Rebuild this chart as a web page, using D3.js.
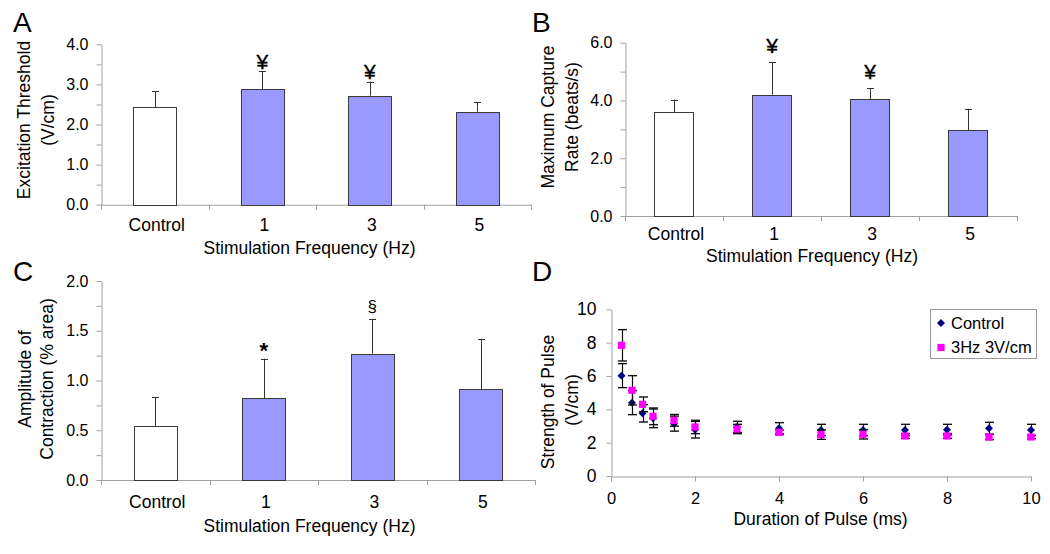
<!DOCTYPE html>
<html>
<head>
<meta charset="utf-8">
<script src="https://cdn.jsdelivr.net/npm/d3@7"></script>
<style>
  html, body { margin: 0; padding: 0; background: #fff; }
  svg { display: block; }
  text { font-family: 'Liberation Sans', Arial, sans-serif; fill: #000; }
</style>
</head>
<body>
<svg id="chart" width="1050" height="554"></svg>
<script>
// ---------- DATA ----------
const categories = ["Control", "1", "3", "5"];

const thresholdMean = [2.43, 2.88, 2.72, 2.32];
const thresholdErr  = [0.40, 0.45, 0.35, 0.23];
const thresholdMarks = ["", "¥", "¥", ""];

const captureMean = [3.60, 4.20, 4.04, 2.97];
const captureErr  = [0.43, 1.12, 0.38, 0.74];
const captureMarks = ["", "¥", "¥", ""];

const amplitudeMean = [0.54, 0.82, 1.27, 0.91];
const amplitudeErr  = [0.29, 0.40, 0.35, 0.51];
const amplitudeMarks = ["", "*", "§", ""];

const durations = [0.25, 0.5, 0.75, 1, 1.5, 2, 3, 4, 5, 6, 7, 8, 9, 10];
const controlStrength = [6.02, 4.40, 3.76, 3.46, 3.14, 2.78, 2.94, 2.86, 2.76, 2.76, 2.76, 2.78, 2.86, 2.76];
const controlErr      = [0.72, 0.72, 0.52, 0.56, 0.45, 0.50, 0.34, 0.34, 0.34, 0.34, 0.34, 0.32, 0.36, 0.34];
const stimStrength    = [7.84, 5.14, 4.30, 3.58, 3.34, 2.94, 2.82, 2.62, 2.48, 2.50, 2.40, 2.40, 2.34, 2.34];
const stimErr         = [0.94, 0.88, 0.44, 0.50, 0.35, 0.40, 0.28, 0.14, 0.28, 0.28, 0.14, 0.14, 0.16, 0.10];
const seriesNames = ["Control", "3Hz 3V/cm"];

// ---------- STYLE ----------
const AXIS = "#a0a0a0";
const BAR_FILL = "#9999ff";
const BAR_STROKE = "#3a3a3a";
const CAT_FONT = 17.5;
const TICK_FONT = 16;

const svg = d3.select("#chart");
svg.append("rect").attr("width", 1050).attr("height", 554).attr("fill", "#fff");

function styleAxis(g) {
  g.select(".domain").attr("stroke", AXIS).attr("stroke-width", 1);
  g.selectAll(".tick line").attr("stroke", AXIS).attr("stroke-width", 1);
  g.selectAll(".tick text").attr("font-family", "'Liberation Sans', Arial, sans-serif")
    .attr("fill", "#000");
}

function barPanel(c) {
  const g = svg.append("g");
  const x = d3.scaleBand().domain(categories).range([c.x0, c.x1]).paddingInner(0).paddingOuter(0);
  const y = d3.scaleLinear().domain([0, c.max]).range([c.yBot, c.yTop]);
  const bw = x.bandwidth();
  const barW = bw * 0.4;

  // y axis
  const yAxis = d3.axisLeft(y)
    .tickValues(d3.range(0, c.max + 1e-9, c.tickStep))
    .tickSize(5).tickSizeOuter(0).tickPadding(8)
    .tickFormat(v => Math.abs(v / c.labelStep - Math.round(v / c.labelStep)) < 1e-6 ? d3.format(".1f")(v) : "");
  const ya = g.append("g").attr("transform", `translate(${c.x0 + 0.5},0)`).call(yAxis);
  styleAxis(ya);
  ya.selectAll(".tick text").attr("font-size", TICK_FONT);

  // x axis line + boundary ticks
  const bounds = categories.map(d => x(d)).concat([c.x1]);
  g.append("line").attr("x1", c.x0).attr("x2", c.x1)
    .attr("y1", y(0) + 0.5).attr("y2", y(0) + 0.5).attr("stroke", AXIS);
  g.selectAll(".bt").data(bounds).enter().append("line")
    .attr("x1", d => Math.round(d) + 0.5).attr("x2", d => Math.round(d) + 0.5)
    .attr("y1", y(0)).attr("y2", y(0) + 5).attr("stroke", AXIS);

  // category labels
  g.selectAll(".cl").data(categories).enter().append("text")
    .attr("x", d => x(d) + bw / 2 + 2).attr("y", y(0) + c.catOffset)
    .attr("text-anchor", "middle").attr("font-size", CAT_FONT).text(d => d);

  // error bars (upper only)
  const errG = g.append("g");
  c.means.forEach((m, i) => {
    const cx = Math.round(x(categories[i]) + bw / 2) + 0.5;
    errG.append("line").attr("x1", cx).attr("x2", cx)
      .attr("y1", y(m)).attr("y2", y(m + c.errs[i])).attr("stroke", "#333");
    errG.append("line").attr("x1", cx - 3.5).attr("x2", cx + 3.5)
      .attr("y1", Math.round(y(m + c.errs[i])) + 0.5).attr("y2", Math.round(y(m + c.errs[i])) + 0.5)
      .attr("stroke", "#333");
  });

  // bars
  g.selectAll(".bar").data(c.means).enter().append("rect")
    .attr("x", (d, i) => Math.round(x(categories[i]) + bw / 2 - barW / 2) + 0.5)
    .attr("y", d => Math.round(y(d)) + 0.5)
    .attr("width", Math.round(barW))
    .attr("height", d => Math.round(y(0)) - Math.round(y(d)))
    .attr("fill", (d, i) => i === 0 ? "#fff" : BAR_FILL)
    .attr("stroke", BAR_STROKE).attr("stroke-width", 1);

  // significance marks
  g.selectAll(".mk").data(c.marks).enter().append("text")
    .attr("x", (d, i) => x(categories[i]) + bw / 2)
    .attr("y", (d, i) => y(c.means[i] + c.errs[i]) - c.markGap[i])
    .attr("text-anchor", "middle")
    .attr("font-size", d => d === "§" ? 17 : (d === "*" ? 22 : 21))
    .attr("font-weight", d => d === "*" ? "bold" : "normal")
    .attr("stroke", d => d === "¥" ? "#000" : "none").attr("stroke-width", 0.4)
    .text(d => d);

  // y title (two lines)
  c.yTitle.forEach((t, i) => {
    g.append("text")
      .attr("transform", `translate(${c.yTitleX[i]},${c.yTitleY}) rotate(-90)`)
      .attr("dy", "0.35em").attr("text-anchor", "middle")
      .attr("font-size", CAT_FONT).text(t);
  });

  // x title
  g.append("text").attr("x", c.xTitleX).attr("y", c.xTitleY)
    .attr("text-anchor", "middle").attr("font-size", CAT_FONT)
    .text("Stimulation Frequency (Hz)");

  // panel letter
  g.append("text").attr("x", c.letterX).attr("y", c.letterY)
    .attr("font-size", 28).text(c.letter);
}

barPanel({
  x0: 101, x1: 531, yTop: 44.3, yBot: 204.7, max: 4, tickStep: 0.5, labelStep: 1,
  means: thresholdMean, errs: thresholdErr, marks: thresholdMarks, markGap: [0, 2, 3, 0],
  catOffset: 26.5, yTitle: ["Excitation Threshold", "(V/cm)"], yTitleX: [24, 48], yTitleY: 120,
  xTitleX: 309.5, xTitleY: 254, letter: "A", letterX: 13, letterY: 32
});

barPanel({
  x0: 625, x1: 1017, yTop: 42.7, yBot: 216, max: 6, tickStep: 1, labelStep: 2,
  means: captureMean, errs: captureErr, marks: captureMarks, markGap: [0, 9, 9, 0],
  catOffset: 23.5, yTitle: ["Maximum Capture", "Rate (beats/s)"], yTitleX: [548, 572], yTitleY: 117,
  xTitleX: 812, xTitleY: 261.5, letter: "B", letterX: 532, letterY: 32
});

barPanel({
  x0: 101, x1: 535, yTop: 281, yBot: 480, max: 2, tickStep: 0.25, labelStep: 0.5,
  means: amplitudeMean, errs: amplitudeErr, marks: amplitudeMarks, markGap: [0, 1, 7, 0],
  catOffset: 28, yTitle: ["Amplitude of", "Contraction (% area)"], yTitleX: [25, 47], yTitleY: 379,
  xTitleX: 309.5, xTitleY: 532, letter: "C", letterX: 13, letterY: 281
});

// ---------- PANEL D ----------
(function () {
  const g = svg.append("g");
  const x = d3.scaleLinear().domain([0, 10]).range([611, 1031]);
  const y = d3.scaleLinear().domain([0, 10]).range([476, 309.3]);

  const ya = g.append("g").attr("transform", "translate(611.5,0)")
    .call(d3.axisLeft(y).tickValues(d3.range(0, 11, 2)).tickSize(5).tickSizeOuter(0).tickPadding(10).tickFormat(d3.format("d")));
  styleAxis(ya);
  ya.selectAll(".tick text").attr("font-size", 17.5);

  const xa = g.append("g").attr("transform", "translate(0,476.5)")
    .call(d3.axisBottom(x).tickValues(d3.range(0, 11, 2)).tickSize(5).tickSizeOuter(0).tickPadding(11).tickFormat(d3.format("d")));
  styleAxis(xa);
  xa.selectAll(".tick text").attr("font-size", 16.5);

  const series = [
    { name: seriesNames[0], vals: controlStrength, errs: controlErr, color: "#000080", shape: d3.symbolSquare, size: 32, rot: 45 },
    { name: seriesNames[1], vals: stimStrength, errs: stimErr, color: "#ff00ff", shape: d3.symbolSquare, size: 52, rot: 0 }
  ];

  series.forEach(s => {
    const sg = g.append("g");
    durations.forEach((d, i) => {
      const cx = Math.round(x(d)) + 0.5;
      const top = y(s.vals[i] + s.errs[i]), bot = y(s.vals[i] - s.errs[i]);
      sg.append("line").attr("x1", cx).attr("x2", cx).attr("y1", top).attr("y2", bot).attr("stroke", "#111").attr("stroke-width", 1.2);
      [top, bot].forEach(yy => sg.append("line").attr("x1", cx - 4.5).attr("x2", cx + 4.5)
        .attr("y1", yy).attr("y2", yy).attr("stroke", "#111").attr("stroke-width", 1.4));
    });
    sg.selectAll(".pt").data(s.vals).enter().append("path")
      .attr("d", d3.symbol().type(s.shape).size(s.size))
      .attr("transform", (v, i) => `translate(${x(durations[i])},${y(v)}) rotate(${s.rot})`)
      .attr("fill", s.color);
  });

  // legend
  const lg = g.append("g");
  lg.append("rect").attr("x", 930.5).attr("y", 309.5).attr("width", 106).attr("height", 49)
    .attr("fill", "#fff").attr("stroke", "#9a9a9a");
  series.forEach((s, i) => {
    const ly = 323 + i * 24.5;
    lg.append("path").attr("d", d3.symbol().type(s.shape).size(s.size))
      .attr("transform", `translate(941,${ly}) rotate(${s.rot})`).attr("fill", s.color);
    lg.append("text").attr("x", 951).attr("y", ly + 5.5).attr("font-size", 16.5).text(s.name);
  });

  // titles
  ["Strength of Pulse", "(V/cm)"].forEach((t, i) => {
    g.append("text").attr("transform", `translate(${[548.3, 571.7][i]},${[402, 400][i]}) rotate(-90)`)
      .attr("dy", "0.35em").attr("text-anchor", "middle").attr("font-size", CAT_FONT).text(t);
  });
  g.append("text").attr("x", 820.5).attr("y", 525).attr("text-anchor", "middle")
    .attr("font-size", CAT_FONT).text("Duration of Pulse (ms)");
  g.append("text").attr("x", 532).attr("y", 281).attr("font-size", 28).text("D");
})();
</script>
</body>
</html>
